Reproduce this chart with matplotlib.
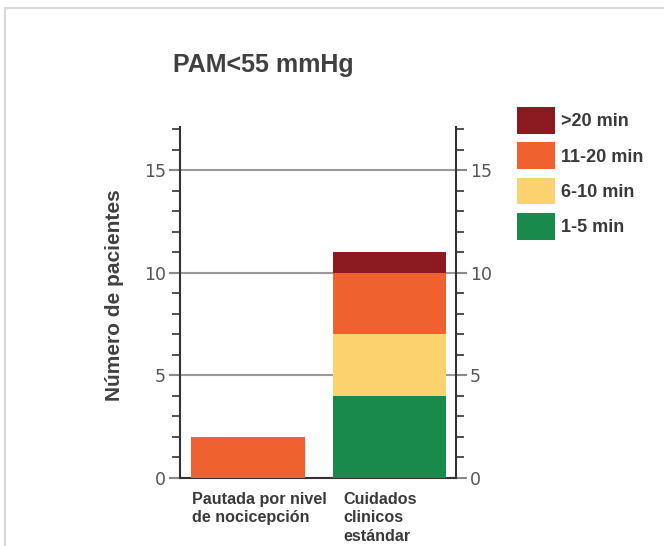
import matplotlib
matplotlib.use("Agg")
import matplotlib.pyplot as plt
import matplotlib.transforms as mtransforms
from matplotlib.patches import Rectangle, Patch
import numpy as np

# ---- data ----
categories = ["Pautada por nivel\nde nocicepción", "Cuidados\nclinicos\nestándar"]
series_names = ["1-5 min", "6-10 min", "11-20 min", ">20 min"]
v_1_5 = [0, 4]
v_6_10 = [0, 3]
v_11_20 = [2, 3]
v_20 = [0, 1]
series_values = [v_1_5, v_6_10, v_11_20, v_20]
colors = ["#1A8A4C", "#FCD26F", "#F06130", "#8A1A1F"]
yticks = [0, 5, 10, 15]
title = "PAM<55 mmHg"
ylabel = "Número de pacientes"

W, H = 664, 546
fig = plt.figure(figsize=(W / 100, H / 100), dpi=100)

# outer light frame
fig.patches.append(Rectangle((5 / W, -0.1), 1.2, 1 - 8 / H + 0.1, transform=fig.transFigure,
                             fill=False, edgecolor="#d9d9d9", linewidth=1.6))

ax = fig.add_axes([180 / W, 1 - 478 / H, 276 / W, 351 / H])
x = np.arange(len(categories))
bottom = np.zeros(len(categories))
for name, vals, c in zip(series_names, series_values, colors):
    vals = np.array(vals, dtype=float)
    ax.bar(x, vals, width=0.8, bottom=bottom, color=c, label=name, zorder=3, linewidth=0)
    bottom += vals

ax.set_xlim(-0.48, 1.47)
ax.set_ylim(0, 17.1)
ax.set_yticks(yticks)
ax.set_yticks(np.arange(0, 18, 1), minor=True)
ax.yaxis.grid(True, which="major", color="#9a9a9a", linewidth=1.5, zorder=0)
ax.set_axisbelow(True)
ax.spines["top"].set_visible(False)
for s in ["left", "right", "bottom"]:
    ax.spines[s].set_color("#333333")
    ax.spines[s].set_linewidth(1.5)
ax.tick_params(axis="y", which="major", direction="out", length=8, width=1.5, color="#888888",
               left=True, right=True, labelleft=True, labelright=True,
               labelsize=12.5, labelcolor="#555555", pad=2)
ax.tick_params(axis="y", which="minor", direction="out", length=5.5, width=1.2, color="#333333",
               left=True, right=True)
for lab in ax.get_yticklabels():
    lab.set_fontfamily("DejaVu Sans")

ax.set_xticks(x)
ax.set_xticklabels(categories, fontsize=11.6, fontweight="bold", color="#3a3a3a",
                   family="Liberation Sans", linespacing=1.3, ha="center", va="top",
                   multialignment="left")
ax.tick_params(axis="x", length=0, pad=10)
offsets_px = [11.5, -9.5]
for lab, off in zip(ax.get_xticklabels(), offsets_px):
    lab.set_transform(lab.get_transform() + mtransforms.ScaledTranslation(off / 100, 0, fig.dpi_scale_trans))

fig.text(263.5 / W, 1 - 72 / H, title, ha="center", va="baseline", fontsize=18,
         fontweight="bold", color="#404040", family="Liberation Sans")
fig.text(114 / W, 1 - 295 / H, ylabel, ha="center", va="center", rotation=90, fontsize=15,
         fontweight="bold", color="#404040", family="Liberation Sans")

handles = [Patch(facecolor=c, edgecolor="none", label=n) for n, c in zip(series_names, colors)][::-1]
leg = fig.legend(handles=handles, loc="upper left", bbox_to_anchor=(517 / W, 1 - 107 / H),
                 frameon=False, borderpad=0, borderaxespad=0, handlelength=2.1,
                 handleheight=1.92, labelspacing=0.46, handletextpad=0.33,
                 prop={"family": "Liberation Sans", "weight": "bold", "size": 13})
for t in leg.get_texts():
    t.set_color("#3a3a3a")

fig.savefig("out.png", dpi=100)
